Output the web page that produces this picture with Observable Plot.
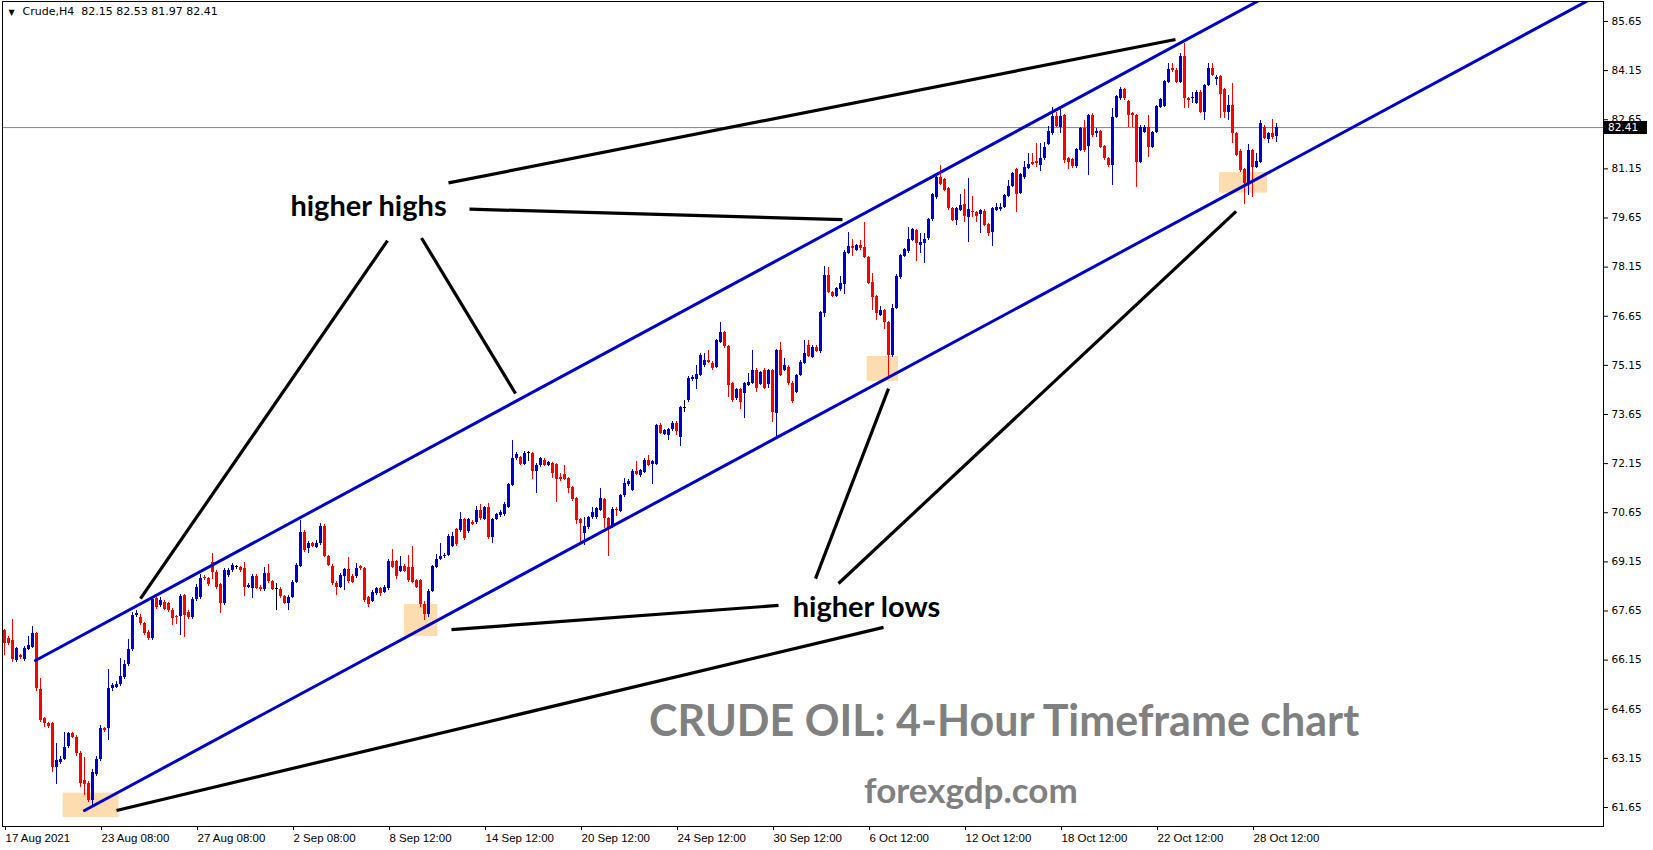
<!DOCTYPE html>
<html>
<head>
<meta charset="utf-8">
<script src="https://cdn.jsdelivr.net/npm/d3@7"></script>
<script src="https://cdn.jsdelivr.net/npm/@observablehq/plot@0.6"></script>
<style>
  html, body { margin: 0; padding: 0; background: #fff; }
  #chart { width: 1653px; height: 850px; overflow: hidden; }
</style>
</head>
<body>
<div id="chart"></div>
<script>
// ---- Crude, H4 candles (bar index 0 = 17 Aug 2021) ----
const open = [
67.05,66.80,66.75,66.14,66.29,66.16,66.46,66.54,66.95,65.25,
64.36,64.20,64.20,62.86,63.03,63.13,63.52,63.90,63.80,63.31,
62.47,62.37,61.85,62.65,63.11,64.05,64.05,65.27,65.32,65.40,
65.63,66.02,66.46,67.51,67.46,67.27,67.00,66.80,68.02,67.82,
67.92,67.87,67.68,67.48,67.48,68.12,67.61,67.44,67.99,68.07,
68.68,68.63,69.13,68.83,68.46,67.87,68.73,68.88,68.99,68.97,
68.94,68.38,68.33,68.70,68.38,68.30,68.80,68.54,68.32,68.32,
68.08,67.89,68.07,68.53,69.02,70.06,69.55,69.70,69.60,69.70,
70.23,69.32,69.02,68.50,68.38,68.71,68.91,68.71,68.69,69.01,
68.94,68.07,67.95,68.18,68.33,68.23,68.33,69.16,69.16,68.87,
69.02,68.99,68.99,68.58,68.58,67.85,67.55,68.26,68.99,69.21,
69.30,69.35,69.62,70.13,70.11,70.44,70.09,70.35,70.34,70.72,
70.45,70.80,69.89,70.45,70.57,70.59,70.82,71.48,72.30,72.33,
72.13,72.47,72.47,71.92,72.10,72.25,72.10,72.15,72.13,71.72,
71.82,71.69,71.43,71.08,70.44,70.03,70.19,70.49,70.50,70.72,
71.06,70.47,70.21,70.75,70.70,71.18,71.51,71.33,71.92,71.79,
71.89,72.25,72.13,72.13,73.30,73.04,73.01,73.18,73.39,72.94,
73.82,74.08,74.71,74.71,74.84,75.15,75.30,75.22,75.10,75.86,
76.14,75.73,74.59,74.13,74.41,74.29,74.54,74.61,75.00,74.57,
75.00,74.57,74.98,73.69,75.59,75.00,75.10,74.61,74.33,74.84,
75.22,75.76,75.40,75.71,75.56,76.73,77.90,77.36,77.26,77.46,
77.62,78.58,78.78,78.66,78.81,78.76,78.44,77.69,77.24,76.68,
76.83,76.47,75.46,76.90,77.82,78.47,78.64,78.96,79.27,78.81,
78.86,79.01,79.59,80.27,80.90,80.82,80.54,79.93,79.57,79.88,
80.06,79.68,79.86,79.83,79.76,79.86,79.45,79.22,79.88,79.90,
79.98,80.31,80.61,81.12,80.41,80.88,81.15,81.33,81.36,81.25,
81.46,81.89,82.22,82.75,82.40,82.78,81.46,81.43,81.22,81.71,
82.37,81.83,82.78,82.24,82.29,81.83,81.46,81.25,82.73,83.29,
83.56,83.21,82.83,82.78,81.35,82.27,82.42,81.81,82.27,83.03,
83.05,83.80,84.22,84.15,83.80,84.58,83.29,83.29,83.14,83.49,
82.88,83.70,84.20,83.87,83.97,83.56,82.88,83.08,82.22,81.69,
81.12,80.69,81.71,81.20,81.35,82.42,82.04,82.22,82.15
];
const high = [
67.10,66.87,67.38,66.55,66.32,66.58,66.87,67.17,67.00,65.60,
64.40,64.25,64.25,63.61,63.20,63.95,63.95,63.95,63.85,63.35,
63.18,62.45,62.80,63.20,64.15,64.10,65.85,65.45,65.50,66.19,
66.14,66.78,67.60,67.68,67.55,67.30,67.05,68.05,68.10,68.05,
67.98,67.92,67.72,67.52,68.15,68.15,67.65,68.05,68.45,68.75,
68.72,68.68,69.40,68.88,68.50,68.95,68.95,69.10,69.05,69.02,
69.14,68.48,68.75,68.75,68.42,68.99,69.06,68.58,68.48,68.36,
68.12,68.12,68.58,69.10,70.40,70.10,69.78,69.75,69.80,70.31,
70.28,69.35,69.06,68.55,68.80,68.96,69.28,68.75,69.09,69.05,
68.99,68.10,68.28,68.38,68.38,68.42,69.22,69.52,69.20,69.32,
69.06,69.35,69.62,68.62,68.62,67.95,68.30,69.05,69.38,69.70,
69.40,69.98,70.06,70.18,70.67,70.48,70.48,70.40,70.84,70.90,
70.85,70.92,70.48,70.64,70.72,70.95,71.55,72.86,72.50,72.38,
72.52,72.52,72.50,72.14,72.35,72.30,72.22,72.18,72.15,71.86,
72.09,71.72,71.46,71.12,70.48,70.52,70.54,70.82,70.82,71.38,
71.10,70.50,70.80,70.80,71.22,71.69,71.65,71.96,72.20,71.98,
72.30,72.40,72.25,73.35,73.37,73.20,73.22,73.44,73.44,73.90,
74.08,74.80,74.84,75.15,75.50,75.51,75.59,75.26,75.95,76.47,
76.17,75.76,74.62,74.45,74.45,74.63,74.90,75.59,75.04,74.96,
75.04,75.02,75.02,75.63,75.86,75.35,75.14,74.65,74.88,75.30,
75.91,75.91,75.75,75.75,76.80,78.17,78.15,77.40,77.53,77.87,
78.65,79.22,78.99,78.85,78.97,79.50,78.48,77.97,77.28,76.95,
76.87,76.50,77.00,77.92,78.55,78.72,79.37,79.33,79.31,79.19,
79.19,79.63,80.41,80.95,81.25,80.86,80.58,79.97,79.97,80.37,
80.52,80.85,80.31,79.86,79.92,79.90,79.49,79.97,80.08,80.08,
80.38,80.80,81.04,81.16,81.02,81.36,81.61,81.61,81.91,81.91,
81.94,82.44,83.03,82.88,82.98,82.82,81.50,81.47,81.77,82.41,
82.63,82.82,82.83,82.37,82.33,81.87,81.50,82.98,83.39,83.64,
83.60,83.25,82.88,82.82,82.47,82.46,82.78,82.30,83.09,83.30,
83.86,84.36,84.36,84.20,84.66,84.97,83.34,83.49,83.53,83.53,
83.74,84.38,84.38,84.00,84.01,83.60,83.39,83.75,82.26,81.73,
81.16,81.89,81.75,81.61,82.63,82.46,82.26,82.65,82.53
];
const low = [
66.29,66.60,66.09,66.09,66.18,66.12,66.43,66.50,65.20,64.25,
64.10,64.05,62.73,62.35,62.95,63.10,63.45,63.75,63.20,62.27,
62.01,61.80,61.72,62.60,63.05,63.95,63.69,65.20,65.28,65.35,
65.55,65.95,66.40,67.45,67.20,66.90,66.75,66.75,67.70,67.75,
67.65,67.60,67.21,67.23,66.90,66.85,67.38,67.40,67.95,68.00,
68.58,68.40,68.62,68.32,67.56,67.82,68.68,68.83,68.93,68.83,
68.09,68.33,68.02,68.30,68.25,68.26,68.50,68.28,67.67,68.02,
67.85,67.66,68.03,68.50,68.98,69.45,69.42,69.58,69.55,69.65,
69.28,69.00,68.42,68.13,68.33,68.28,68.50,68.48,68.65,68.90,
67.90,67.75,67.90,68.12,68.10,68.18,68.28,68.95,68.62,68.82,
68.82,68.52,68.48,68.33,67.75,67.35,67.45,68.20,68.95,69.18,
69.25,69.30,69.58,69.62,70.05,69.80,70.02,70.25,70.30,70.42,
70.40,69.84,69.72,70.40,70.52,70.55,70.78,71.44,72.25,72.08,
72.08,72.20,71.66,71.25,72.04,72.05,72.05,71.69,70.95,71.60,
71.62,71.23,71.00,70.30,69.70,69.65,70.14,70.45,70.45,70.68,
70.16,69.30,70.16,70.54,70.65,71.12,71.46,71.30,71.78,71.74,
71.85,72.05,71.51,72.08,73.04,73.00,72.86,73.14,73.01,72.67,
73.72,74.03,74.66,74.41,74.80,75.10,75.20,75.00,75.05,75.82,
75.68,74.18,74.03,74.08,73.80,73.52,74.50,74.57,74.32,74.52,
74.40,74.44,73.42,72.90,74.80,74.96,74.55,74.00,74.30,74.80,
75.18,75.38,75.35,75.53,75.52,76.61,77.35,77.22,77.22,77.42,
77.32,78.54,78.46,78.62,78.67,78.40,77.62,76.83,76.52,76.64,
76.24,74.79,75.40,76.85,77.78,78.43,78.58,78.92,78.33,78.58,
78.25,78.97,79.55,80.22,80.63,80.45,79.89,79.53,79.42,79.84,
79.52,78.91,79.68,79.52,79.17,79.38,79.07,78.79,79.84,79.86,
79.94,80.27,80.57,79.83,80.37,80.84,81.12,81.24,81.20,81.08,
81.42,81.85,82.18,82.40,82.24,81.30,81.12,81.15,81.15,81.67,
81.66,80.95,82.12,82.12,81.77,81.42,81.20,80.64,82.69,83.25,
83.25,82.42,82.42,80.59,81.30,82.23,81.51,81.77,82.23,82.99,
83.01,83.76,84.10,83.75,83.76,82.98,82.98,83.14,83.10,82.84,
82.63,83.66,83.96,83.70,82.68,82.68,82.63,81.91,81.52,81.05,
80.06,80.34,80.29,81.16,81.31,82.04,81.91,82.04,81.97
];
const close = [
66.67,66.65,66.16,66.49,66.22,66.52,66.60,66.97,65.27,64.30,
64.20,64.13,62.88,63.10,63.11,63.49,63.90,63.80,63.29,62.37,
62.35,61.85,62.72,63.13,64.05,64.00,65.27,65.37,65.42,65.65,
66.02,66.46,67.51,67.56,67.26,66.97,66.80,67.99,67.77,67.97,
67.71,67.66,67.41,67.44,68.09,67.51,67.44,67.99,68.38,68.63,
68.63,68.46,68.83,68.38,67.89,68.88,68.88,69.04,68.99,68.89,
68.38,68.43,68.70,68.34,68.30,68.80,68.54,68.32,68.32,68.08,
67.89,68.07,68.53,69.04,70.06,69.50,69.72,69.62,69.72,70.23,
69.32,69.05,68.48,68.38,68.74,68.91,68.55,68.53,68.94,68.94,
67.97,67.85,68.23,68.33,68.18,68.36,69.16,68.99,68.69,69.02,
68.87,68.58,68.53,68.38,67.85,67.55,68.26,69.02,69.21,69.32,
69.35,69.93,69.93,69.68,70.44,69.86,70.44,70.29,70.72,70.47,
70.80,69.89,70.44,70.59,70.67,70.89,71.51,72.30,72.42,72.13,
72.47,72.47,71.92,72.10,72.30,72.10,72.17,71.86,71.66,71.66,
71.66,71.38,71.06,70.42,70.33,70.23,70.49,70.65,70.77,71.08,
70.47,70.16,70.75,70.72,71.18,71.53,71.59,71.92,71.82,71.94,
72.25,72.09,72.20,73.30,73.08,73.16,73.18,73.39,73.14,73.85,
73.82,74.76,74.79,74.87,75.46,75.30,75.25,75.05,75.91,76.14,
75.73,74.54,74.08,74.41,74.03,74.59,74.64,74.98,74.44,74.92,
74.44,74.98,73.72,75.59,74.84,75.15,74.59,74.06,74.84,75.25,
75.51,75.42,75.71,75.58,76.75,77.90,77.39,77.26,77.49,77.66,
78.61,78.78,78.71,78.81,78.71,78.44,77.66,77.22,76.73,76.83,
76.47,75.46,76.90,77.86,78.51,78.68,78.98,79.29,78.86,78.91,
78.98,79.59,80.37,80.90,80.67,80.49,79.93,79.57,79.93,80.03,
79.70,79.91,79.83,79.70,79.88,79.42,79.19,79.93,79.98,79.98,
80.34,80.61,81.00,80.37,80.98,81.18,81.28,81.28,81.30,81.46,
81.81,82.30,82.75,82.44,82.75,81.39,81.33,81.22,81.73,82.37,
81.71,82.78,82.17,82.29,81.81,81.46,81.25,82.73,83.36,83.56,
83.29,82.78,82.78,81.35,82.42,82.42,81.81,82.27,83.05,83.26,
83.82,84.18,84.15,83.80,84.58,83.29,83.24,83.34,83.49,82.88,
83.70,84.20,84.00,83.95,83.42,82.88,83.08,82.22,81.56,81.10,
80.69,81.71,81.20,81.38,82.52,82.07,82.22,82.12,82.41
];

// ---- axes ----
const yTicks = [61.65,63.15,64.65,66.15,67.65,69.15,70.65,72.15,73.65,75.15,76.65,78.15,79.65,81.15,82.65,84.15,85.65];
const xTickBars = [0,24,48,72,96,120,144,168,192,216,240,264,288,312];
const xTickLabels = ["17 Aug 2021","23 Aug 08:00","27 Aug 08:00","2 Sep 08:00","8 Sep 12:00","14 Sep 12:00",
  "20 Sep 12:00","24 Sep 12:00","30 Sep 12:00","6 Oct 12:00","12 Oct 12:00","18 Oct 12:00","22 Oct 12:00","28 Oct 12:00"];
const lastPrice = 82.41;
const header = "Crude,H4\u00a0\u00a082.15 82.53 81.97 82.41";

// ---- drawn annotations (bar index, price) ----
const channelName = ["upper","upper","lower","lower"];
const channelBar = [7.75, 330, 20.0, 400];
const channelPrice = [66.14, 87.37, 61.56, 86.56];

const pointerBar1 = [111.0, 116.25, 95.75, 104.25, 193.5, 219.75, 202.75, 208.5];
const pointerPrice1 = [80.72, 79.92, 78.96, 79.04, 67.82, 67.15, 68.64, 68.49];
const pointerBar2 = [292.75, 209.5, 34.0, 127.75, 111.75, 28.0, 221.0, 307.9];
const pointerPrice2 = [85.10, 79.60, 68.03, 74.29, 67.08, 61.56, 74.44, 79.85];

const zoneBar1 = [14.65, 100.0, 215.65, 303.75];
const zoneBar2 = [28.65, 108.35, 223.5, 315.75];
const zoneLow = [61.34, 66.87, 74.66, 80.41];
const zoneHigh = [62.09, 67.85, 75.42, 81.04];

const noteText = ["higher highs", "higher lows"];
const noteBar = [91.0, 215.5];
const notePrice = [79.98, 67.76];
const titleText = ["CRUDE OIL: 4-Hour Timeframe chart", "forexgdp.com"];
const titleBar = [249.9, 241.6];
const titlePrice = [64.25, 62.12];

// ---- build tables ----
const candles = open.map((o, i) => ({i, o, h: high[i], l: low[i], c: close[i]}));
const BLUE = "#0000cd", RED = "#ff0000";
const candleColor = d => Math.abs(d.c - d.o) < 0.005 ? "#000000" : (d.c > d.o ? BLUE : RED);
const channels = channelName.map((n, k) => ({n, x: channelBar[k], y: channelPrice[k]}));
const pointers = pointerBar1.map((b, k) => ({x1: b, y1: pointerPrice1[k], x2: pointerBar2[k], y2: pointerPrice2[k]}));
const zones = zoneBar1.map((b, k) => ({x1: b, x2: zoneBar2[k], y1: zoneLow[k], y2: zoneHigh[k]}));
const notes = noteText.map((t, k) => ({t, x: noteBar[k], y: notePrice[k]}));
const titles = titleText.map((t, k) => ({t, x: titleBar[k], y: titlePrice[k]}));

const chart = Plot.plot({
  width: 1653,
  height: 850,
  marginLeft: 2,
  marginRight: 50,
  marginTop: 1,
  marginBottom: 24,
  x: {type: "linear", domain: [-0.5, 399.75], axis: null},
  y: {type: "linear", domain: [61.07, 86.26], axis: null},
  style: {background: "#ffffff", color: "#000000", fontFamily: "DejaVu Sans", fontSize: "11px", overflow: "visible"},
  marks: [
    Plot.rect(zones, {x1: "x1", x2: "x2", y1: "y1", y2: "y2", fill: "#fddcb0"}),
    Plot.ruleY([lastPrice], {stroke: "#778899", strokeWidth: 1}),
    Plot.ruleX(candles, {x: "i", y1: "l", y2: "h", stroke: candleColor, strokeWidth: 1, shapeRendering: "crispEdges"}),
    Plot.rect(candles, {
      x1: d => d.i - 0.375, x2: d => d.i + 0.375,
      y1: d => Math.min(d.o, d.c),
      y2: d => Math.max(Math.max(d.o, d.c), Math.min(d.o, d.c) + 0.031),
      fill: candleColor, shapeRendering: "crispEdges"
    }),
    Plot.line(channels, {x: "x", y: "y", z: "n", stroke: BLUE, strokeWidth: 3, clip: true}),
    Plot.link(pointers, {x1: "x1", y1: "y1", x2: "x2", y2: "y2", stroke: "#000000", strokeWidth: 3.2}),
    Plot.text(notes, {x: "x", y: "y", text: "t", fontFamily: "Lato", fontWeight: "bold", fontSize: 29, fill: "#000000", lineAnchor: "middle"}),
    Plot.text(titles, {x: "x", y: "y", text: "t", fontFamily: "Lato", fontWeight: "bold", fontSize: d => d.t.length > 20 ? 43 : 35, fill: "#808080", lineAnchor: "middle"}),
    Plot.text(["\u25BC"], {frameAnchor: "top-left", dx: 6, dy: 8, fontSize: 8, fill: "#000000", textAnchor: "start"}),
    Plot.text([header], {frameAnchor: "top-left", dx: 20, dy: 6, fontSize: 11, fontFamily: "DejaVu Sans", fill: "#000000", textAnchor: "start", lineAnchor: "top"}),
    Plot.axisY({anchor: "right", ticks: yTicks, tickFormat: d => d.toFixed(2), tickSize: 4, tickPadding: 4,
      label: null, fontSize: 10.5, fontFamily: "DejaVu Sans", stroke: "#000000"}),
    Plot.axisX({anchor: "bottom", ticks: xTickBars, tickFormat: d => xTickLabels[xTickBars.indexOf(d)],
      tickSize: 4, tickPadding: 3, label: null, textAnchor: "start", dx: 1, fontSize: 11.5, fontFamily: "Liberation Sans"}),
    Plot.frame({stroke: "#000000", strokeWidth: 1})
  ]
});
document.getElementById("chart").appendChild(chart);

// price label on the right scale for the last close (drawn over the scale, like the terminal does)
const ys = Math.round(chart.scale("y").apply(lastPrice));
const xr = chart.scale("x").range[1];
const svg = d3.select(chart);
const g = svg.append("g");
g.append("rect").attr("x", xr + 1).attr("y", ys - 6).attr("width", 43).attr("height", 13).attr("fill", "#000000");
g.append("text").attr("x", xr + 5).attr("y", ys + 4).attr("fill", "#ffffff").attr("text-anchor", "start")
  .attr("font-family", "DejaVu Sans").attr("font-size", 10.5).text(lastPrice.toFixed(2));
</script>
</body>
</html>
